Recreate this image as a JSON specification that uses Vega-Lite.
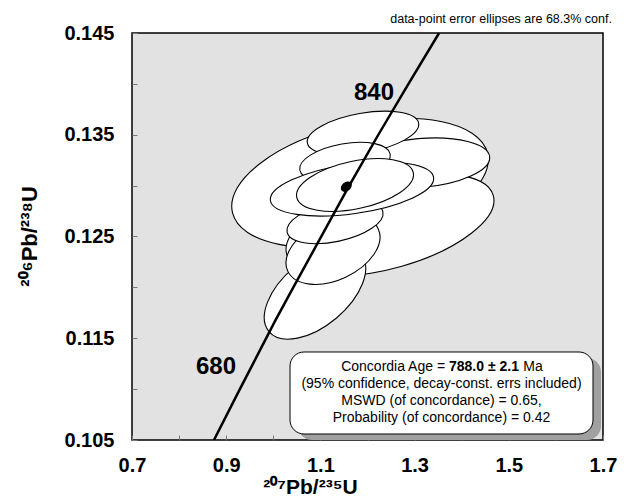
{
  "$schema": "https://vega.github.io/schema/vega-lite/v6.json",
  "width": 471,
  "height": 407,
  "autosize": {"type": "none"},
  "padding": {"left": 132, "top": 33, "right": 24, "bottom": 58},
  "background": "white",
  "config": {
    "view": {"fill": "#e2e2e2", "stroke": "#000000", "strokeWidth": 1.5},
    "font": "Liberation Sans"
  },
  "title": {
    "text": "data-point error ellipses are 68.3% conf.",
    "anchor": "end",
    "fontSize": 12.5,
    "fontWeight": "normal",
    "font": "Liberation Sans",
    "color": "black",
    "offset": -2,
    "dx": -5
  },
  "datasets": {
    "ellipses": [
      {"id": "E", "x": 1.1841, "y": 0.13026, "len": 0.556, "r": "0.45", "angle": 347},
      {"id": "D", "x": 1.2478, "y": 0.12613, "len": 0.456, "r": "0.40", "angle": 344},
      {"id": "C", "x": 1.3115, "y": 0.13222, "len": 0.297, "r": "0.35", "angle": 355},
      {"id": "A", "x": 1.1904, "y": 0.13517, "len": 0.240, "r": "0.35", "angle": 350},
      {"id": "L", "x": 1.0885, "y": 0.11945, "len": 0.255, "r": "0.55", "angle": 320},
      {"id": "K", "x": 1.1268, "y": 0.12367, "len": 0.212, "r": "0.60", "angle": 335},
      {"id": "J", "x": 1.131, "y": 0.12643, "len": 0.208, "r": "0.40", "angle": 348},
      {"id": "I", "x": 1.1522, "y": 0.13232, "len": 0.195, "r": "0.40", "angle": 350},
      {"id": "F", "x": 1.1671, "y": 0.12967, "len": 0.350, "r": "0.30", "angle": 352},
      {"id": "H", "x": 1.1735, "y": 0.13006, "len": 0.253, "r": "0.40", "angle": 348}
    ],
    "mean": [
      {"x": 1.155, "y": 0.1299, "len": 0.024, "r": "0.70", "angle": 320}
    ],
    "concordia": [
      {"x": 0.874, "y": 0.105},
      {"x": 0.929, "y": 0.110},
      {"x": 1.005, "y": 0.1168},
      {"x": 1.0425, "y": 0.120},
      {"x": 1.160, "y": 0.1299},
      {"x": 1.223, "y": 0.135},
      {"x": 1.287, "y": 0.140},
      {"x": 1.352, "y": 0.145}
    ],
    "ages": [
      {"t": "680", "x": 0.8783, "y": 0.11217},
      {"t": "840", "x": 1.2138, "y": 0.1391}
    ],
    "box": [
      {"x": 1.0355, "x2": 1.6788, "y": 0.11365, "y2": 0.10559}
    ],
    "age": [
      {"pre": "Concordia Age =", "val": "788.0 ± 2.1", "unit": "Ma", "x": 1.3571, "y": 0.112174}
    ],
    "lines": [
      {"t": "(95% confidence, decay-const. errs included)", "x": 1.3571, "y": 0.110504},
      {"t": "MSWD (of concordance) = 0.65,", "x": 1.3571, "y": 0.108833},
      {"t": "Probability (of concordance) = 0.42", "x": 1.3571, "y": 0.107162}
    ]
  },
  "encoding": {
    "x": {
      "field": "x", "type": "quantitative",
      "scale": {"domain": [0.7, 1.7], "nice": false, "zero": false},
      "axis": {
        "title": "²⁰⁷Pb/²³⁵U",
        "values": [0.7, 0.8, 0.9, 1.0, 1.1, 1.2, 1.3, 1.4, 1.5, 1.6, 1.7],
        "labelExpr": "round(datum.value*10)%2==1 ? format(datum.value,'.1f') : ''",
        "domain": false, "grid": false, "ticks": true, "tickSize": -5, "tickColor": "#777777",
        "labelPadding": 20, "labelFont": "Liberation Sans", "labelFontSize": 20, "labelFontWeight": "bold",
        "labelColor": "black", "labelFlush": false, "labelOverlap": false,
        "titleFont": "Liberation Sans", "titleFontSize": 21, "titleFontWeight": "bold", "titleColor": "black",
        "titleX": 178, "titleY": 53, "titleBaseline": "alphabetic"
      }
    },
    "y": {
      "field": "y", "type": "quantitative",
      "scale": {"domain": [0.105, 0.145], "nice": false, "zero": false},
      "axis": {
        "title": "²⁰⁶Pb/²³⁸U",
        "values": [0.105, 0.11, 0.115, 0.12, 0.125, 0.13, 0.135, 0.14, 0.145],
        "labelExpr": "round(datum.value*1000)%10==5 ? format(datum.value,'.3f') : ''",
        "domain": false, "grid": false, "ticks": true, "tickSize": -5, "tickColor": "#777777",
        "labelPadding": 23, "labelFont": "Liberation Sans", "labelFontSize": 20, "labelFontWeight": "bold",
        "labelColor": "black", "labelFlush": false, "labelOverlap": false,
        "titleFont": "Liberation Sans", "titleFontSize": 22, "titleFontWeight": "bold", "titleColor": "black",
        "titleX": -96, "titleY": 203, "titleBaseline": "alphabetic", "titleAngle": -90
      }
    }
  },
  "layer": [
    {
      "data": {"name": "ellipses"},
      "mark": {"type": "point", "filled": true, "fill": "white", "stroke": "black", "strokeWidth": 1.1, "opacity": 1, "fillOpacity": 1, "strokeOpacity": 1},
      "encoding": {
        "size": {"field": "len", "type": "quantitative", "scale": {"type": "pow", "exponent": 2, "domain": [0, 1], "range": [0, 221841]}, "legend": null},
        "angle": {"field": "angle", "type": "quantitative", "scale": {"domain": [0, 360], "range": [0, 360]}, "legend": null},
        "shape": {
          "field": "r", "type": "nominal", "legend": null,
          "scale": {
            "domain": ["0.30", "0.35", "0.40", "0.45", "0.50", "0.55", "0.60", "0.70"],
            "range": [
              "M1,0C1,0.1657 0.5523,0.3 0,0.3C-0.5523,0.3 -1,0.1657 -1,0C-1,-0.1657 -0.5523,-0.3 0,-0.3C0.5523,-0.3 1,-0.1657 1,0Z",
              "M1,0C1,0.1933 0.5523,0.35 0,0.35C-0.5523,0.35 -1,0.1933 -1,0C-1,-0.1933 -0.5523,-0.35 0,-0.35C0.5523,-0.35 1,-0.1933 1,0Z",
              "M1,0C1,0.2209 0.5523,0.4 0,0.4C-0.5523,0.4 -1,0.2209 -1,0C-1,-0.2209 -0.5523,-0.4 0,-0.4C0.5523,-0.4 1,-0.2209 1,0Z",
              "M1,0C1,0.2485 0.5523,0.45 0,0.45C-0.5523,0.45 -1,0.2485 -1,0C-1,-0.2485 -0.5523,-0.45 0,-0.45C0.5523,-0.45 1,-0.2485 1,0Z",
              "M1,0C1,0.2762 0.5523,0.5 0,0.5C-0.5523,0.5 -1,0.2762 -1,0C-1,-0.2762 -0.5523,-0.5 0,-0.5C0.5523,-0.5 1,-0.2762 1,0Z",
              "M1,0C1,0.3038 0.5523,0.55 0,0.55C-0.5523,0.55 -1,0.3038 -1,0C-1,-0.3038 -0.5523,-0.55 0,-0.55C0.5523,-0.55 1,-0.3038 1,0Z",
              "M1,0C1,0.3314 0.5523,0.6 0,0.6C-0.5523,0.6 -1,0.3314 -1,0C-1,-0.3314 -0.5523,-0.6 0,-0.6C0.5523,-0.6 1,-0.3314 1,0Z",
              "M1,0C1,0.3866 0.5523,0.7 0,0.7C-0.5523,0.7 -1,0.3866 -1,0C-1,-0.3866 -0.5523,-0.7 0,-0.7C0.5523,-0.7 1,-0.3866 1,0Z"
            ]
          }
        }
      }
    },
    {
      "data": {"name": "concordia"},
      "mark": {"type": "line", "color": "black", "strokeWidth": 2.5, "clip": true},
      "encoding": {}
    },
    {
      "data": {"name": "mean"},
      "mark": {"type": "point", "filled": true, "fill": "black", "stroke": "black", "strokeWidth": 1, "opacity": 1},
      "encoding": {
        "size": {"field": "len", "type": "quantitative", "legend": null},
        "angle": {"field": "angle", "type": "quantitative", "legend": null},
        "shape": {"field": "r", "type": "nominal", "legend": null}
      }
    },
    {
      "data": {"name": "ages"},
      "mark": {"type": "text", "font": "Liberation Sans", "fontSize": 24, "fontWeight": "bold", "color": "black", "align": "center", "baseline": "middle"},
      "encoding": {"text": {"field": "t"}}
    },
    {
      "data": {"name": "box"},
      "mark": {"type": "rect", "fill": "#a0a0a0", "cornerRadius": 14, "xOffset": 8, "x2Offset": 8, "yOffset": 6, "y2Offset": 6},
      "encoding": {"x2": {"field": "x2"}, "y2": {"field": "y2"}}
    },
    {
      "data": {"name": "box"},
      "mark": {"type": "rect", "fill": "white", "stroke": "black", "strokeWidth": 1, "cornerRadius": 14},
      "encoding": {"x2": {"field": "x2"}, "y2": {"field": "y2"}}
    },
    {
      "data": {"name": "age"},
      "mark": {"type": "text", "font": "Liberation Sans", "fontSize": 14, "color": "black", "align": "right", "baseline": "middle", "dx": 3.6},
      "encoding": {"text": {"field": "pre"}}
    },
    {
      "data": {"name": "age"},
      "mark": {"type": "text", "font": "Liberation Sans", "fontSize": 14, "fontWeight": "bold", "color": "black", "align": "left", "baseline": "middle", "dx": 7.5},
      "encoding": {"text": {"field": "val"}}
    },
    {
      "data": {"name": "age"},
      "mark": {"type": "text", "font": "Liberation Sans", "fontSize": 14, "color": "black", "align": "left", "baseline": "middle", "dx": 81.8},
      "encoding": {"text": {"field": "unit"}}
    },
    {
      "data": {"name": "lines"},
      "mark": {"type": "text", "font": "Liberation Sans", "fontSize": 14, "color": "black", "align": "center", "baseline": "middle"},
      "encoding": {"text": {"field": "t"}}
    }
  ]
}
